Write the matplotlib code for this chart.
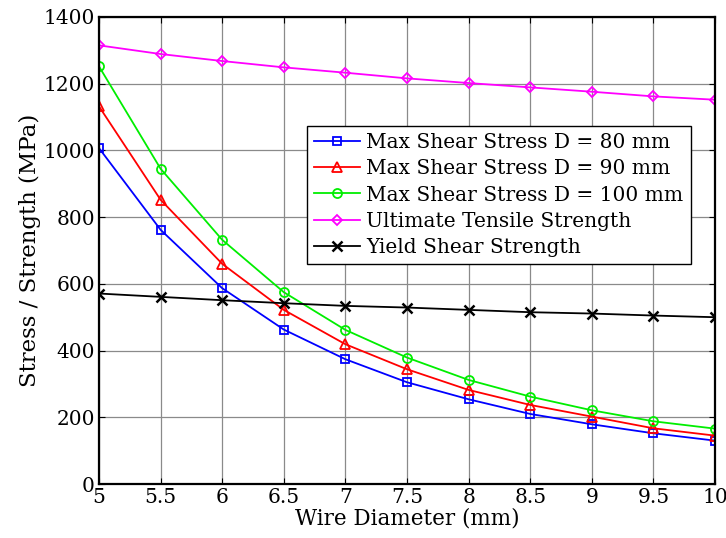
import numpy as np
import matplotlib.pyplot as plt

plt.rcParams['font.family'] = ['DejaVu Serif']

# dati
diametro = [5, 5.5, 6, 6.5, 7, 7.5, 8, 8.5, 9, 9.5, 10]
shear_80 = [1007, 762, 587, 463, 374, 305, 254, 210, 179, 152, 130]
shear_90 = [1132, 852, 660, 522, 419, 344, 282, 237, 202, 167, 145]
shear_100 = [1252, 945, 732, 575, 462, 379, 312, 262, 221, 188, 166]
ultimate = [1315, 1289, 1268, 1249, 1233, 1216, 1202, 1189, 1176, 1162, 1152]
yield_shear = [571, 561, 551, 542, 534, 529, 522, 515, 511, 505, 500]

fig = plt.figure(figsize=(7.26, 5.38), dpi=100)
ax = fig.add_axes([99/726, 1 - 484/538, (715-99)/726, (484-17)/538])

ms = 6
ax.plot(diametro, shear_80, 's-', color='blue', mfc='none', ms=ms, mew=1.3, lw=1.3, label='Max Shear Stress D = 80 mm')
ax.plot(diametro, shear_90, '^-', color='red', mfc='none', ms=ms+1, mew=1.3, lw=1.3, label='Max Shear Stress D = 90 mm')
ax.plot(diametro, shear_100, 'o-', color='#00ee00', mfc='none', ms=ms+0.5, mew=1.3, lw=1.3, label='Max Shear Stress D = 100 mm')
ax.plot(diametro, ultimate, 'D-', color='magenta', mfc='none', ms=ms-0.5, mew=1.3, lw=1.3, label='Ultimate Tensile Strength')
ax.plot(diametro, yield_shear, 'x-', color='black', ms=ms+1, mew=1.8, lw=1.3, label='Yield Shear Strength')

ax.set_xlim(5, 10)
ax.set_ylim(0, 1400)
ax.set_xticks(diametro)
ax.set_xticklabels(['5', '5.5', '6', '6.5', '7', '7.5', '8', '8.5', '9', '9.5', '10'])
ax.set_yticks(np.arange(0, 1401, 200))
ax.grid(True, color='#8a8a8a', lw=0.9)
ax.tick_params(direction='in', top=True, right=True, labelsize=14.5, length=4, pad=3)
for s in ax.spines.values():
    s.set_linewidth(1.6)

ax.set_xlabel('Wire Diameter (mm)', fontsize=15.5, labelpad=0)
ax.set_ylabel('Stress / Strength (MPa)', fontsize=16.5, labelpad=2)

leg = ax.legend(loc='upper left', bbox_to_anchor=((307-99)/616, (484-126)/467), fontsize=14.5,
                fancybox=False, framealpha=1, edgecolor='black', borderpad=0.35,
                labelspacing=0.36, handlelength=2.3, handletextpad=0.3, borderaxespad=0)
leg.get_frame().set_linewidth(1.0)

fig.savefig('out.png', dpi=100)
